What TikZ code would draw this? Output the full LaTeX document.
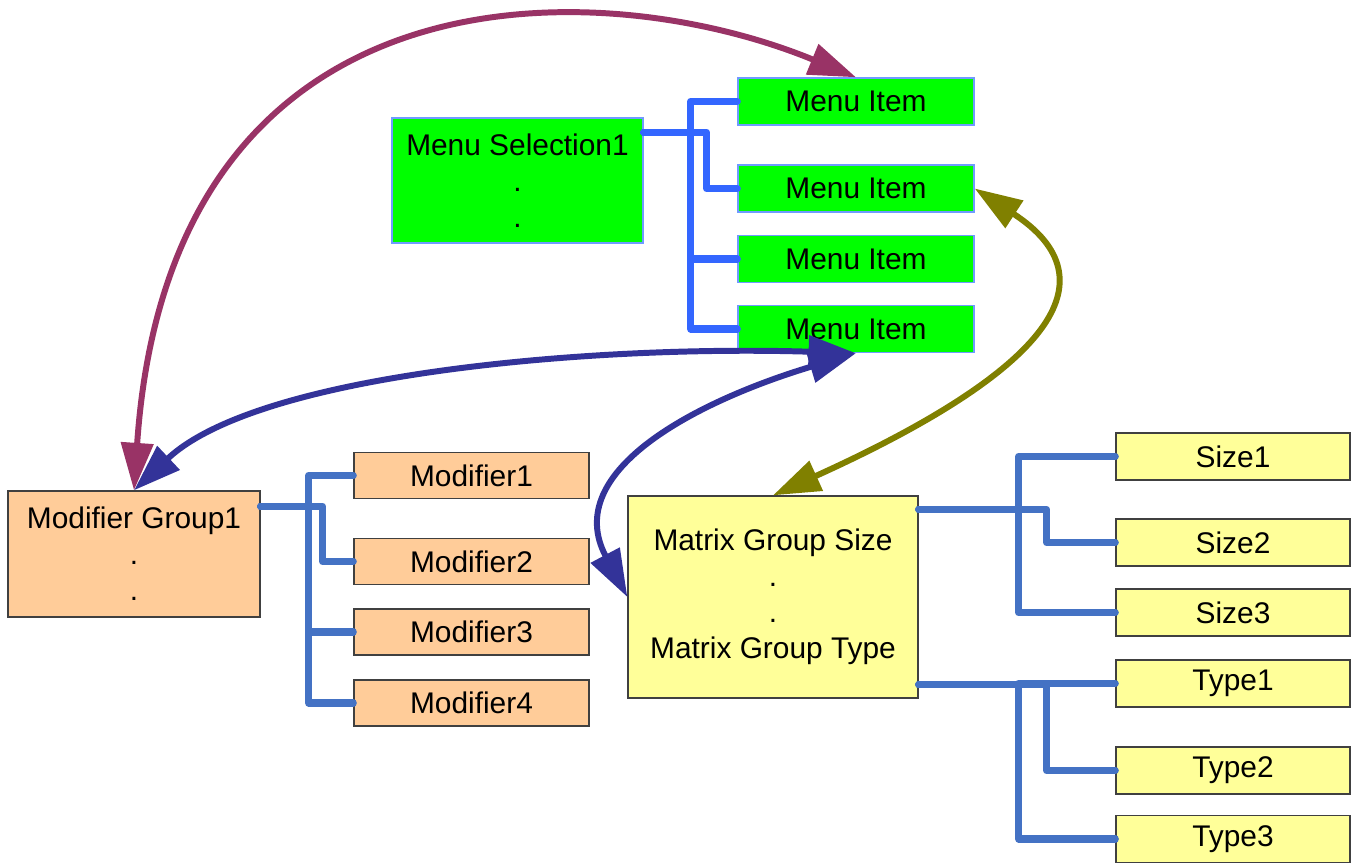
\documentclass[tikz,border=0pt]{standalone}
\usepackage{fontspec}
\setmainfont{Liberation Sans}
\usetikzlibrary{arrows.meta,positioning}

\definecolor{itemgreen}{HTML}{00FF00}
\definecolor{itemedge}{HTML}{6F9BFF}
\definecolor{modpeach}{HTML}{FFCC99}
\definecolor{matyellow}{HTML}{FFFF99}
\definecolor{boxedge}{HTML}{404040}
\definecolor{menublue}{HTML}{3366FF}
\definecolor{treeblue}{HTML}{4472C4}
\definecolor{linkpurple}{HTML}{993366}
\definecolor{linknavy}{HTML}{333399}
\definecolor{linkolive}{HTML}{808000}

\tikzset{
  box/.style={draw, line width=0.8pt, inner sep=0pt, align=center,
    font=\fontsize{17pt}{20.5pt}\selectfont},
  menubox/.style={box, draw=itemedge, fill=itemgreen},
  modbox/.style={box, draw=boxedge, fill=modpeach},
  matbox/.style={box, draw=boxedge, fill=matyellow},
  menulink/.style={draw=menublue, line width=4pt, line cap=round, line join=round},
  treelink/.style={draw=treeblue, line width=4pt, line cap=round, line join=round},
  refer/.style={line width=3.4pt,
    {Triangle[length=27pt,width=18pt]}-{Triangle[length=27pt,width=18pt]}}
}

\begin{document}
\begin{tikzpicture}[x=0.02cm,y=-0.02cm]
  \useasboundingbox (0,0) rectangle (1354,865);

  \node[menubox, minimum width=5.02cm, minimum height=2.5cm] (ms) at (517.5,180.5) {Menu Selection1\\.\\.};
  \foreach \i/\y in {1/101.5,2/188.5,3/259,4/329}
    \node[menubox, minimum width=4.72cm, minimum height=0.94cm] (mi\i) at (856,\y) {Menu Item};

  \node[modbox, minimum width=5.04cm, minimum height=2.52cm] (mg) at (134,554) {Modifier Group1\\.\\.};
  \foreach \i/\y in {1/475.5,2/561.5,3/632,4/703}
    \node[modbox, minimum width=4.7cm, minimum height=0.92cm] (md\i) at (471.5,\y) {Modifier\i};

  \node[matbox, minimum width=5.8cm, minimum height=4.04cm] (mx) at (773,597) {Matrix Group Size\\.\\.\\Matrix Group Type};
  \foreach \i/\y in {1/456.5,2/542.5,3/612.5}
    \node[matbox, minimum width=4.68cm, minimum height=0.94cm] (sz\i) at (1233,\y) {Size\i};
  \foreach \i/\y in {1/683.5,2/770.5,3/839}
    \node[matbox, minimum width=4.68cm, minimum height=0.94cm] (ty\i) at (1233,\y) {Type\i};

  \foreach \i/\d in {1/47,2/63,3/47,4/47}
    \draw[menulink] ([yshift=-0.3cm]ms.north east) -- ++(\d,0) |- (mi\i.west);
  \foreach \i/\d in {1/48,2/62,3/48,4/48}
    \draw[treelink] ([yshift=-0.32cm]mg.north east) -- ++(\d,0) |- (md\i.west);
  \foreach \i/\d in {1/100,2/128,3/100}
    \draw[treelink] ([yshift=-0.28cm]mx.north east) -- ++(\d,0) |- (sz\i.west);
  \foreach \i/\d in {1/100,2/128,3/100}
    \draw[treelink] ([yshift=0.28cm]mx.south east) -- ++(\d,0) |- (ty\i.west);

  \draw[refer, linkpurple] (mg.north) .. controls (170,-42) and (600,-28) .. (mi1.north);
  \draw[refer, linknavy] (mi4.south) .. controls (600,345) and (260,372) .. (mg.north);
  \draw[refer, linknavy] (mi4.south) .. controls (700,400) and (560,470) .. (mx.west);
  \draw[refer, linkolive] (mi2.east) .. controls (1115,280) and (1050,370) .. (mx.north);
\end{tikzpicture}
\end{document}
